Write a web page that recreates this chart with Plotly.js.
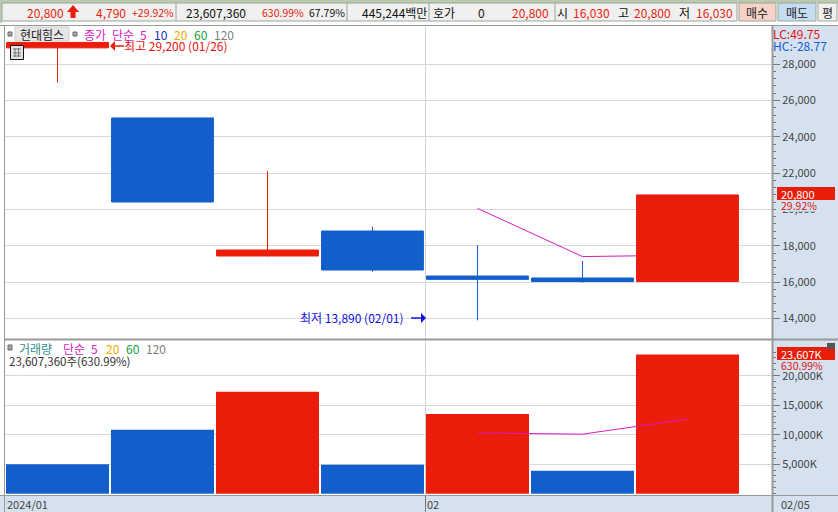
<!DOCTYPE html>
<html>
<head>
<meta charset="utf-8">
<script src="https://cdn.plot.ly/plotly-3.0.1.min.js"></script>
<style>html,body{margin:0;padding:0;background:#fff;overflow:hidden}#c{width:838px;height:512px}</style>
</head>
<body>
<div id="c"></div>
<script>
// ---- data ----
const dates   = ['01/26','01/29','01/30','01/31','02/01','02/02','02/05'];
const opens   = [28900,25040,17437,18813,16335,16225,16030];
const highs   = [29200,25040,22118,19050,18040,17160,20800];
const lows    = [26980,20410,17400,16570,13890,15970,16030];
const closes  = [29200,20410,17767,16665,16150,16030,20800];
const ma5Price = [null,null,null,null,20060,17404,17482];
const volumes  = [5000,10850,17300,4900,13500,3900,23607];
const ma5Volume = [null,null,null,null,10300,10090,12640];
const volumeUp = [false,false,true,false,true,false,true];
const priceTicks = [14000,16000,18000,20000,22000,24000,26000,28000];
const volumeTicks = [5000,10000,15000,20000];

// ---- style ----
const W = 838, H = 512;
const RED = '#ea1c0a', BLUE = '#125fcc', MAG = '#d81cc0', PANEL = '#d5e1ef';
const FONT = '"Noto Sans CJK KR","Noto Sans",sans-serif';
const px = x => x / W, py = y => 1 - y / H;
const priceRange = [12865,30104], volumeRange = [-136,25881];
const pricePane = [339,26], volumePane = [494.5,341];

function poly(points, fill) {
  return {type:'path', xref:'paper', yref:'paper', layer:'above', fillcolor:fill, line:{width:0},
    path:'M' + points.map(p => px(p[0]) + ',' + py(p[1])).join('L') + 'Z'};
}
function rect(x0,y0,x1,y1,fill,layer,lineColor) {
  return {type:'rect', xref:'paper', yref:'paper', layer:layer||'above',
    x0:px(x0), x1:px(x1), y0:py(y0), y1:py(y1), fillcolor:fill,
    line: lineColor ? {color:lineColor,width:1} : {width:0}};
}
function seg(x0,y0,x1,y1,color,width,layer) {
  return {type:'line', xref:'paper', yref:'paper', layer:layer||'above',
    x0:px(x0), x1:px(x1), y0:py(y0), y1:py(y1), line:{color:color,width:width||1}};
}
function txt(text,x,y,color,anchor,size) {
  return {text:text, xref:'paper', yref:'paper', x:px(x), y:py(y), showarrow:false,
    xanchor:anchor||'left', yanchor:'middle', borderpad:0, borderwidth:0,
    font:{family:FONT,size:size||12,color:color||'#222'}};
}
function steps(from,to,step){ const out=[]; for(let v=from;v<=to;v+=step) out.push(v); return out; }
// a tick mark at the pixel row that the value has on its pane's scale
function tickMark(value,range,pane,len) {
  const row = pane[0] + (value-range[0])/(range[1]-range[0])*(pane[1]-pane[0]);
  const y = Math.floor(row)+0.5;
  return seg(773,y,773+len,y,'#777',1);
}

const headerCells = [
  ['20,800',64,RED,'right',12],['4,790',126,RED,'right',12],['+29.92%',174,RED,'right',10.5],
  ['23,607,360',246,'#111','right',12],['630.99%',304,RED,'right',10.5],['67.79%',345,'#111','right',10.5],
  ['445,244백만',427,'#111','right',12],['호가',433,'#111','left',12],['0',485,'#111','right',12],
  ['20,800',549,RED,'right',12],['시',557,'#111','left',12],['16,030',610,RED,'right',12],
  ['고',618,'#111','left',12],['20,800',671,RED,'right',12],['저',679,'#111','left',12],['16,030',733,RED,'right',12]
];
const priceLegend = [['종가',84,MAG],['단순',112,MAG],['5',140,MAG],['10',154,'#1030c0'],['20',174,'#f0a800'],['60',194,'#10a040'],['120',214,'#808080']];
const volumeLegend = [['거래량',19,'#309090'],['단순',63,MAG],['5',91,MAG],['20',106,'#f0a800'],['60',126,'#10a040'],['120',146,'#808080']];

const annotations = [];
headerCells.forEach(c => annotations.push(txt(c[0],c[1],12,c[2],c[3],c[4])));
annotations.push(txt('매수',757,12,'#222','center'), txt('매도',797,12,'#222','center'), txt('평',827,12,'#222','center'));
annotations.push(txt('현대힘스',42,34,'#222','center'));
priceLegend.forEach(c => annotations.push(txt(c[0],c[1],34,c[2])));
volumeLegend.forEach(c => annotations.push(txt(c[0],c[1],348,c[2])));
annotations.push(
  txt('최고 29,200 (01/26)',124,45,'#e81010'),
  txt('최저 13,890 (02/01)',300,317,'#1010e0'),
  txt('23,607,360주(630.99%)',9,361,'#333','left',11.5),
  txt('LC:49.75',773,33,'#e81010'),
  txt('HC:-28.77',773,45,'#1060d0'),
  txt('20,800',781,193.5,'#fff','left',11),
  txt('29.92%',781,205,'#e01010','left',10.5),
  txt('23,607K',781,353.5,'#fff','left',11),
  txt('630.99%',781,365,'#e01010','left',10.5),
  txt('2024/01',7,504,'#444','left',11),
  txt('02',427,504,'#444','left',11),
  txt('02/05',781,504,'#444','left',11)
);

const panelShapes = [
  // header
  rect(0,0,838,25,'#ffffff','below'),
  rect(0,0,838,3,'#bccbb0','below'),
  rect(0,3,2,23,'#bccbb0','below'),
  rect(2,3,737,21,'#f0f0f0','below','#9aa596'),
  seg(176,3,176,21,'#9aa596',1,'below'), seg(347,3,347,21,'#9aa596',1,'below'),
  seg(429,3,429,21,'#9aa596',1,'below'), seg(555,3,555,21,'#9aa596',1,'below'),
  rect(739,3,776,21,'#f6d2c8','below','#9aa596'),
  rect(778,3,816,21,'#c6dcf2','below','#9aa596'),
  rect(818,3,837,21,'#f0f0f0','below','#9aa596'),
  poly([[73,5],[79,12],[75.5,12],[75.5,18],[70.5,18],[70.5,12],[67,12]],RED),
  // axis panels
  rect(773,25,838,512,PANEL,'below'),
  rect(0,496,838,512,PANEL,'below')
];
const tickShapes = [].concat(
  steps(14000,28400,400).map(v => tickMark(v,priceRange,pricePane,priceTicks.includes(v) ? 7 : 3)),
  steps(0,24000,1000).map(v => tickMark(v,volumeRange,volumePane,volumeTicks.includes(v) ? 7 : 3))
);
const frameShapes = [
  // month divider
  seg(425.5,26,425.5,495,'#d4d4d4',1,'below'),
  // frame
  seg(0,25.5,838,25.5,'#999',1), seg(4.5,25,4.5,512,'#999',1),
  seg(772.5,25,772.5,512,'#999',2), seg(5,339.5,838,339.5,'#999',2),
  seg(0,495.5,838,495.5,'#999',1), seg(425.5,496,425.5,512,'#777',1),
  // pane buttons
  rect(15,27,69,41,'#e6e6e6','above','#cfcfcf'),
  rect(8,32,12,36,'#aaa','above','#666'), rect(73,32,77,36,'#aaa','above','#666'),
  rect(8,345,12,350,'#aaa','above','#666'),
  // grid icon
  rect(10.5,45.5,23.5,59.5,'#e4e4e4','above','#111'),
  seg(13,49,21,49,'#777'),seg(13,53,21,53,'#777'),seg(13,56,21,56,'#777'),seg(15,48,15,57,'#777'),seg(18.5,48,18.5,57,'#777'),
  // high / low arrows
  poly([[110,46],[115,41],[115,51]],RED), seg(115,46,124,46,RED,1.5),
  poly([[426,318],[421,313],[421,323]],'#1010e0'), seg(411,318,421,318,'#1010e0',1.5),
  // last-value flags and the covers behind their percent labels
  rect(776,200,837,211.5,PANEL), rect(777,187,835,200,RED),
  rect(776,360,837,371.5,PANEL), rect(777,347,835,360,RED),
  rect(827,343,835,349,'#555')
];

const commonY = {side:'right', anchor:'x', showline:false, zeroline:false, gridcolor:'#d8d8d8', gridwidth:1,
  tickmode:'array', ticks:'outside', ticklen:7, tickcolor:'rgba(0,0,0,0)', tickwidth:1,
  tickfont:{family:FONT,size:11,color:'#444'}};

const traces = [
  {type:'scatter', mode:'lines', x:dates, y:ma5Price, xaxis:'x', yaxis:'y', line:{color:MAG,width:1}, connectgaps:false, hoverinfo:'skip'},
  {type:'candlestick', x:dates, open:opens, high:highs, low:lows, close:closes, xaxis:'x', yaxis:'y3',
    increasing:{line:{color:RED,width:1},fillcolor:RED}, decreasing:{line:{color:BLUE,width:1},fillcolor:BLUE}, whiskerwidth:0},
  {type:'bar', x:dates, y:volumes, xaxis:'x', yaxis:'y2', marker:{color:volumeUp.map(u => u ? RED : BLUE), line:{width:0}}},
  {type:'scatter', mode:'lines', x:dates, y:ma5Volume, xaxis:'x', yaxis:'y2', line:{color:MAG,width:1}, hoverinfo:'skip'}
];

const layout = {
  width:W, height:H, margin:{l:0,r:0,t:0,b:0,pad:0}, paper_bgcolor:'#fff', plot_bgcolor:'#fff', showlegend:false,
  boxgap:0.03, boxgroupgap:0, bargap:0.019,
  xaxis:{type:'category', categoryorder:'array', categoryarray:dates, domain:[px(5),px(772)], range:[-0.5,6.805], anchor:'y2',
    showgrid:false, showline:false, zeroline:false, ticks:'', showticklabels:false, rangeslider:{visible:false}, fixedrange:true},
  yaxis: Object.assign({}, commonY, {domain:[py(pricePane[0]),py(pricePane[1])], range:priceRange, tickvals:priceTicks, ticktext:priceTicks.map(v=>v.toLocaleString('en-US'))}),
  yaxis3: {overlaying:'y', side:'right', anchor:'x', range:priceRange, visible:false, showgrid:false, zeroline:false},
  yaxis2: Object.assign({}, commonY, {domain:[py(volumePane[0]),py(volumePane[1])], range:volumeRange, tickvals:volumeTicks, ticktext:volumeTicks.map(v=>v.toLocaleString('en-US')+'K')}),
  shapes:panelShapes.concat(tickShapes, frameShapes), annotations:annotations,
  font:{family:FONT,size:12}
};
Plotly.newPlot('c', traces, layout, {displayModeBar:false, staticPlot:true});
</script>
</body>
</html>
